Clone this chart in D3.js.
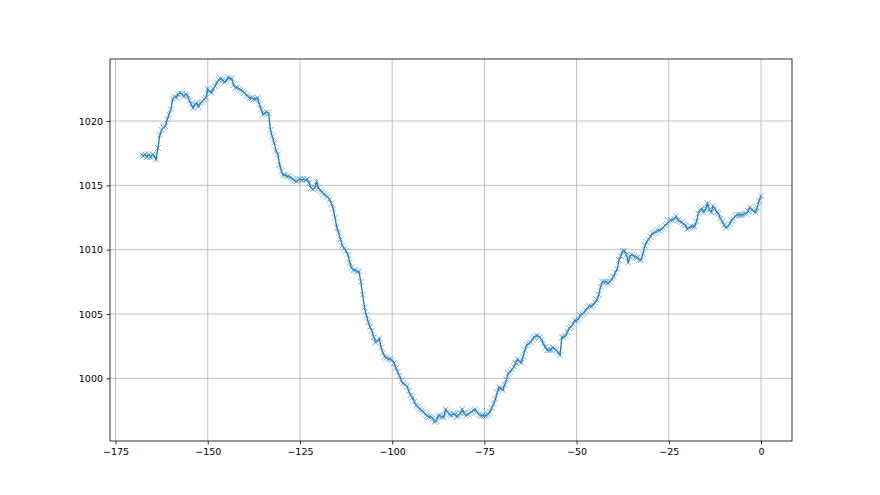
<!DOCTYPE html>
<html>
<head>
<meta charset="utf-8">
<script src="https://cdn.jsdelivr.net/npm/d3@7"></script>
<style>
  html, body { margin:0; padding:0; background:#fff; }
  svg text { font-family:'DejaVu Sans', sans-serif; font-size:9.5px; fill:#000; }
</style>
</head>
<body>
<svg id="chart" width="880" height="495"></svg>
<script>
'use strict';
// hours before now, half-hour steps
const startHour = -168, stepHour = 0.5;
const pressure = [
  1017.4,1017.3,1017.4,1017.2,1017.4,1017.2,1017.4,1017.3,1017.0,1017.9,
  1018.9,1019.3,1019.5,1019.6,1020.1,1020.5,1020.9,1021.7,1021.9,1021.8,
  1022.1,1022.2,1022.1,1021.9,1022.1,1022.0,1021.6,1021.3,1021.0,1021.3,
  1021.4,1021.1,1021.4,1021.5,1021.7,1021.8,1022.5,1022.3,1022.2,1022.5,
  1022.7,1023.0,1023.2,1023.3,1023.2,1023.0,1023.1,1023.4,1023.3,1023.3,
  1022.8,1022.6,1022.6,1022.5,1022.4,1022.3,1022.2,1022.0,1021.9,1021.8,
  1021.8,1021.7,1021.7,1021.8,1021.3,1020.9,1020.5,1020.6,1020.7,1020.6,
  1019.3,1018.8,1018.3,1017.7,1017.4,1016.6,1016.1,1015.8,1015.8,1015.7,
  1015.7,1015.6,1015.5,1015.4,1015.3,1015.4,1015.5,1015.4,1015.5,1015.4,
  1015.5,1015.2,1014.8,1014.7,1014.8,1015.3,1014.8,1014.6,1014.5,1014.3,
  1014.2,1014.1,1013.9,1013.6,1013.2,1012.5,1011.7,1011.3,1010.8,1010.3,
  1010.1,1009.9,1009.6,1009.0,1008.6,1008.4,1008.4,1008.3,1008.3,1007.5,
  1006.5,1005.5,1004.9,1004.4,1004.0,1003.7,1003.2,1002.8,1002.9,1003.1,
  1002.4,1002.0,1001.7,1001.6,1001.5,1001.5,1001.4,1001.2,1000.8,1000.5,
  1000.2,999.8,999.6,999.5,999.4,999.0,998.7,998.5,998.2,997.9,
  997.8,997.6,997.5,997.4,997.2,997.1,997.0,997.0,996.9,996.6,
  996.7,997.1,997.1,997.0,997.0,997.6,997.4,997.2,997.1,997.25,
  997.2,997.0,997.1,997.3,997.6,997.3,997.1,997.2,997.3,997.4,
  997.5,997.6,997.4,997.2,997.1,997.1,997.1,997.1,997.2,997.4,
  997.7,998.0,998.4,998.9,999.3,999.2,999.1,999.5,999.9,1000.4,
  1000.5,1000.7,1000.9,1001.2,1001.5,1001.3,1001.2,1001.7,1002.2,1002.6,
  1002.7,1002.8,1003.0,1003.2,1003.3,1003.3,1003.2,1003.0,1002.7,1002.4,
  1002.2,1002.2,1002.2,1002.4,1002.3,1002.2,1002.0,1001.8,1003.2,1003.2,
  1003.3,1003.6,1003.9,1004.0,1004.2,1004.5,1004.5,1004.6,1004.9,1005.0,
  1005.1,1005.3,1005.5,1005.6,1005.6,1005.7,1005.9,1006.1,1006.5,1007.1,
  1007.5,1007.5,1007.5,1007.4,1007.5,1007.7,1007.9,1008.2,1008.5,1009.2,
  1009.5,1009.9,1009.9,1009.6,1009.0,1009.5,1009.6,1009.5,1009.4,1009.4,
  1009.2,1009.2,1009.7,1010.3,1010.6,1010.8,1011.0,1011.25,1011.3,1011.4,
  1011.5,1011.5,1011.6,1011.7,1011.9,1012.0,1012.2,1012.3,1012.3,1012.4,
  1012.6,1012.3,1012.2,1012.15,1012.0,1011.9,1011.6,1011.7,1011.8,1011.8,
  1011.8,1012.2,1012.8,1013.1,1013.2,1012.9,1013.2,1013.6,1013.1,1012.9,
  1013.4,1013.2,1012.9,1012.8,1012.4,1012.2,1011.9,1011.7,1011.8,1012.0,
  1012.3,1012.4,1012.6,1012.7,1012.7,1012.7,1012.7,1012.8,1012.8,1013.0,
  1013.3,1013.1,1013.0,1012.9,1013.3,1013.8,1014.2
];
const xTicks = [-175,-150,-125,-100,-75,-50,-25,0];
const yTicks = [1000,1005,1010,1015,1020];

const data = pressure.map((v,i) => ({ x: startHour + i*stepHour, y: v }));

const margin = { left:110, top:59, right:88, bottom:54 };
const W = 880, H = 495;
const svg = d3.select('#chart');
const g = svg.append('g').attr('transform',`translate(${margin.left},${margin.top})`);
const iw = W - margin.left - margin.right, ih = H - margin.top - margin.bottom;

const x = d3.scaleLinear().domain([-176.5, 8.4]).range([0, iw]);
const y = d3.scaleLinear().domain([995.13, 1024.82]).range([ih, 0]);
const fmt = d => String(d).replace('-', '\u2212');

// grid
g.append('g').selectAll('line').data(xTicks).join('line')
  .attr('x1',d=>x(d)).attr('x2',d=>x(d)).attr('y1',0).attr('y2',ih)
  .attr('stroke','#b0b0b0').attr('stroke-width',0.8);
g.append('g').selectAll('line').data(yTicks).join('line')
  .attr('y1',d=>y(d)).attr('y2',d=>y(d)).attr('x1',0).attr('x2',iw)
  .attr('stroke','#b0b0b0').attr('stroke-width',0.8);

// series
const line = d3.line().x(d=>x(d.x)).y(d=>y(d.y));
g.append('path').datum(data).attr('d',line)
  .attr('fill','none').attr('stroke','#1f77b4').attr('stroke-width',1.3);
const s = 3;
g.append('g').selectAll('path').data(data).join('path')
  .attr('d', d => { const cx=x(d.x), cy=y(d.y);
    return `M${cx-s},${cy-s}L${cx+s},${cy+s}M${cx-s},${cy+s}L${cx+s},${cy-s}`; })
  .attr('stroke','#3a8cc8').attr('stroke-width',0.9).attr('opacity',0.7).attr('fill','none');

// axes
const xAxis = d3.axisBottom(x).tickValues(xTicks).tickFormat(fmt).tickSizeOuter(0).tickSize(3.5).tickPadding(3.5);
const yAxis = d3.axisLeft(y).tickValues(yTicks).tickFormat(fmt).tickSizeOuter(0).tickSize(3.5).tickPadding(3.5);
const gx = g.append('g').attr('transform',`translate(0,${ih})`).call(xAxis);
const gy = g.append('g').call(yAxis);
[gx, gy].forEach(a => {
  a.select('.domain').remove();
  a.selectAll('line').attr('stroke','#000').attr('stroke-width',0.8);
  a.selectAll('text').attr('font-family',null).attr('font-size',null);
});

// frame
g.append('rect').attr('x',0).attr('y',0).attr('width',iw).attr('height',ih)
  .attr('fill','none').attr('stroke','#000').attr('stroke-width',0.8);
</script>
</body>
</html>
